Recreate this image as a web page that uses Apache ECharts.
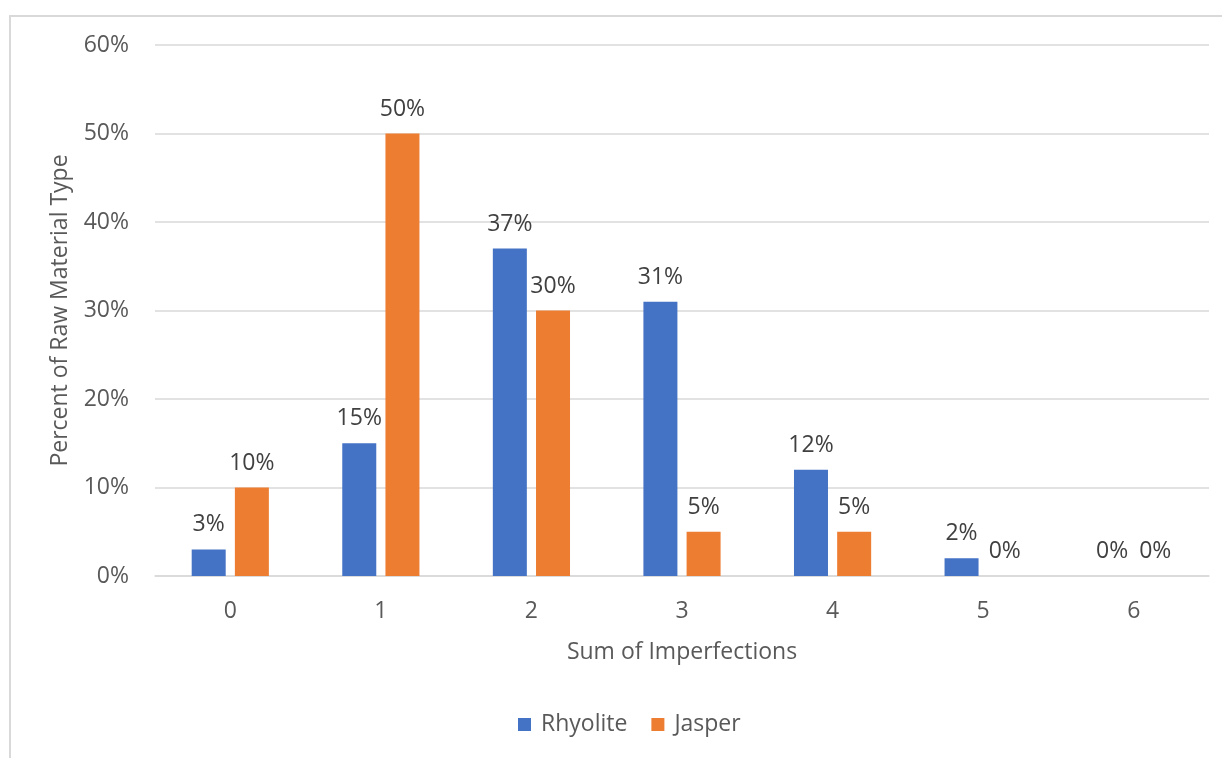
<!DOCTYPE html>
<html>
<head>
<meta charset="utf-8">
<script src="https://cdn.jsdelivr.net/npm/echarts@6/dist/echarts.min.js"></script>
<style>
  html, body { margin: 0; padding: 0; background: #fff; }
  #chart { width: 1222px; height: 758px; }
</style>
</head>
<body>
<div id="chart"></div>
<script>
// Sum of imperfections per artifact, share of each raw material type
const categories = ['0', '1', '2', '3', '4', '5', '6'];
const rhyolite = [3, 15, 37, 31, 12, 2, 0];
const jasper = [10, 50, 30, 5, 5, 0, 0];
const yTicks = [0, 10, 20, 30, 40, 50, 60];

const FONT = '"Open Sans", "Liberation Sans", sans-serif';
const FS = 23;
const chart = echarts.init(document.getElementById('chart'));

const labelStyle = {
  show: true,
  position: 'top',
  distance: 13,
  color: '#404040',
  fontFamily: FONT,
  fontSize: FS,
  formatter: p => p.value + '%'
};

chart.setOption({
  animation: false,
  backgroundColor: '#ffffff',
  textStyle: { fontFamily: FONT },
  graphic: [{
    type: 'rect',
    shape: { x: 10, y: 16, width: 1300, height: 800 },
    style: { fill: 'none', stroke: '#d9d9d9', lineWidth: 2 },
    silent: true,
    z: -1
  }],
  grid: { left: 155, right: 13, top: 45, bottom: 182 },
  legend: {
    bottom: 17,
    left: 513,
    itemWidth: 13,
    itemHeight: 13,
    itemGap: 24,
    icon: 'rect',
    textStyle: { color: '#595959', fontSize: FS, fontFamily: FONT, padding: [0, 0, 0, 5] },
    data: ['Rhyolite', 'Jasper']
  },
  xAxis: {
    type: 'category',
    data: categories,
    name: 'Sum of Imperfections',
    nameLocation: 'middle',
    nameGap: 65,
    nameTextStyle: { color: '#595959', fontSize: FS, fontFamily: FONT },
    axisLine: { lineStyle: { color: '#d9d9d9', width: 1.5 } },
    axisTick: { show: false },
    axisLabel: { color: '#595959', fontSize: FS, fontFamily: FONT, margin: 24 }
  },
  yAxis: {
    type: 'value',
    min: yTicks[0],
    max: yTicks[yTicks.length - 1],
    interval: 10,
    name: 'Percent of Raw Material Type',
    nameLocation: 'middle',
    nameGap: 83,
    nameTextStyle: { color: '#595959', fontSize: FS, fontFamily: FONT },
    axisLine: { show: false },
    axisTick: { show: false },
    axisLabel: { color: '#595959', fontSize: FS, fontFamily: FONT, margin: 26, formatter: v => v + '%' },
    splitLine: { lineStyle: { color: '#d9d9d9', width: 1.5 } }
  },
  series: [
    {
      name: 'Rhyolite',
      type: 'bar',
      data: rhyolite,
      barWidth: 34,
      barGap: '27%',
      itemStyle: { color: '#4472c4' },
      label: labelStyle
    },
    {
      name: 'Jasper',
      type: 'bar',
      data: jasper,
      barWidth: 34,
      barGap: '27%',
      itemStyle: { color: '#ed7d31' },
      label: labelStyle
    }
  ]
});
</script>
</body>
</html>
